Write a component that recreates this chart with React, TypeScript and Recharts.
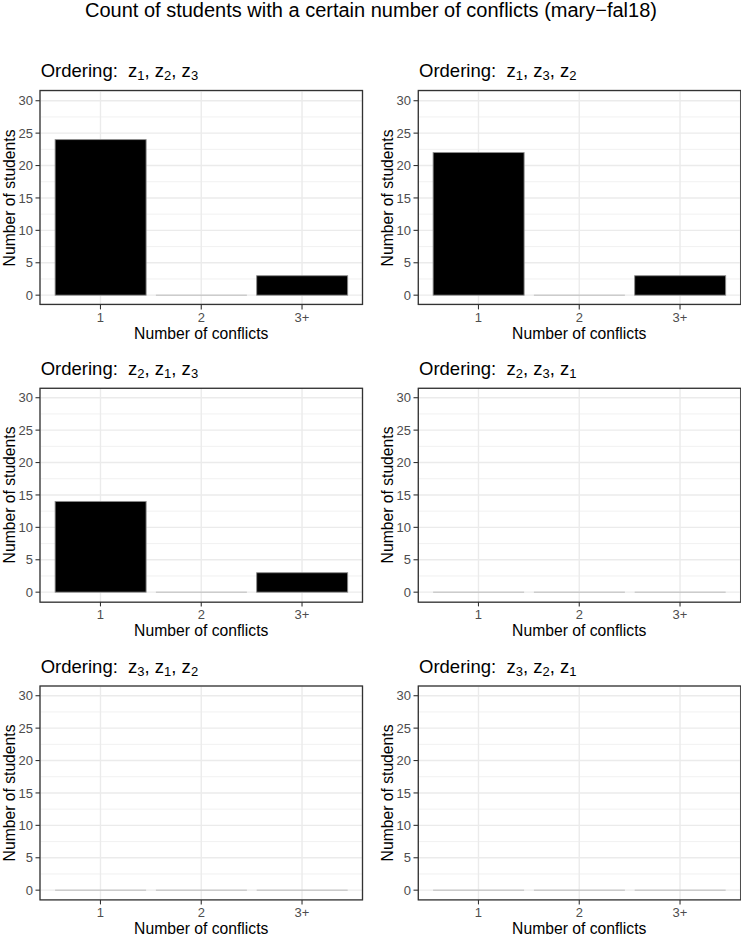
import React from "react";
import {
  BarChart,
  Bar,
  XAxis,
  YAxis,
  CartesianGrid,
} from "recharts";

// categories and tick values
const CONFLICTS = ["1", "2", "3+"];
const Y_TICKS = [0, 5, 10, 15, 20, 25, 30];
const Y_MINOR = [2.5, 7.5, 12.5, 17.5, 22.5, 27.5];
const Y_DOMAIN = [-1.5, 31.5];

// orderings (subscripts of z) and the counts for each panel
const ORDERINGS = [
  ["1", "2", "3"],
  ["1", "3", "2"],
  ["2", "1", "3"],
  ["2", "3", "1"],
  ["3", "1", "2"],
  ["3", "2", "1"],
];
const COUNTS_Z1_Z2_Z3 = [24, 0, 3];
const COUNTS_Z1_Z3_Z2 = [22, 0, 3];
const COUNTS_Z2_Z1_Z3 = [14, 0, 3];
const COUNTS_Z2_Z3_Z1 = [0, 0, 0];
const COUNTS_Z3_Z1_Z2 = [0, 0, 0];
const COUNTS_Z3_Z2_Z1 = [0, 0, 0];
const PANEL_COUNTS = [
  COUNTS_Z1_Z2_Z3,
  COUNTS_Z1_Z3_Z2,
  COUNTS_Z2_Z1_Z3,
  COUNTS_Z2_Z3_Z1,
  COUNTS_Z3_Z1_Z2,
  COUNTS_Z3_Z2_Z1,
];

const FONT = '"Liberation Sans", Arial, Helvetica, sans-serif';
const BORDER = "#333333";
const TICK_TEXT = "#4d4d4d";
const GRID = "#ebebeb";
const BAR_EDGE = "#8c8c8c";
const ZERO_EDGE = "#b3b3b3";

const PLOT_W = 322.5;
const PLOT_H = 213.9;
const Y_AXIS_W = 40;
const X_AXIS_H = 34;
const TOP_PAD = 2;
const COL_LEFT = [0, 378.3];
const ROW_TOP = [90.5, 388.3, 686];
const BAND_PAD = PLOT_W * 0.03125;

function BarShape(props: any) {
  const { x, y, width, height } = props;
  if (!height) {
    return <path d={`M${x},${y}h${width}`} stroke={ZERO_EDGE} strokeWidth={0.9} fill="none" />;
  }
  return (
    <rect x={x} y={y} width={width} height={height} fill="#000" stroke={BAR_EDGE} strokeWidth={0.9} />
  );
}

function Panel({ counts }: { counts: number[] }) {
  const data = CONFLICTS.map((c, i) => ({ conflicts: c, students: counts[i] }));
  return (
    <BarChart
      width={Y_AXIS_W + PLOT_W + 1}
      height={TOP_PAD + PLOT_H + X_AXIS_H + 8}
      data={data}
      margin={{ top: TOP_PAD, right: 1, left: 0, bottom: 8 }}
      barCategoryGap="5%"
    >
      <CartesianGrid
        horizontalValues={Y_MINOR}
        vertical={false}
        stroke={GRID}
        strokeWidth={0.7}
      />
      <CartesianGrid stroke={GRID} strokeWidth={1.4} />
      <XAxis
        dataKey="conflicts"
        type="category"
        padding={{ left: BAND_PAD, right: BAND_PAD }}
        height={X_AXIS_H}
        interval={0}
        tickSize={4.5}
        tickMargin={3}
        tick={{ fontSize: 13, fill: TICK_TEXT, fontFamily: FONT }}
        tickLine={{ stroke: BORDER, strokeWidth: 1.1 }}
        axisLine={false}
        label={{
          value: "Number of conflicts",
          position: "insideBottom",
          offset: 0,
          fontSize: 15.7,
          fill: "#000",
          fontFamily: FONT,
        }}
      />
      <YAxis
        type="number"
        domain={Y_DOMAIN}
        ticks={Y_TICKS}
        allowDataOverflow
        width={Y_AXIS_W}
        interval={0}
        tickSize={4.5}
        tickMargin={2.5}
        tick={{ fontSize: 13, fill: TICK_TEXT, fontFamily: FONT }}
        tickLine={{ stroke: BORDER, strokeWidth: 1.1 }}
        axisLine={false}
        label={{
          value: "Number of students",
          angle: -90,
          position: "insideLeft",
          offset: 9.5,
          textAnchor: "middle",
          fontSize: 15.7,
          fill: "#000",
          fontFamily: FONT,
        }}
      />
      <Bar dataKey="students" shape={BarShape} isAnimationActive={false} />
    </BarChart>
  );
}

function PanelTitle({ x, y, subs }: { x: number; y: number; subs: string[] }) {
  return (
    <text x={x} y={y} fontSize={18.5} fill="#000">
      <tspan style={{ whiteSpace: "pre" }}>{"Ordering:  z"}</tspan>
      <tspan fontSize={13} dy={3}>{subs[0]}</tspan>
      <tspan dy={-3}>{", z"}</tspan>
      <tspan fontSize={13} dy={3}>{subs[1]}</tspan>
      <tspan dy={-3}>{", z"}</tspan>
      <tspan fontSize={13} dy={3}>{subs[2]}</tspan>
    </text>
  );
}

export default function App() {
  return (
    <div
      style={{
        position: "absolute",
        left: 0,
        top: 0,
        width: 741,
        height: 934,
        overflow: "hidden",
        background: "#fff",
        fontFamily: FONT,
      }}
    >
      {PANEL_COUNTS.map((counts, i) => {
        const col = i % 2;
        const row = Math.floor(i / 2);
        return (
          <div
            key={i}
            style={{
              position: "absolute",
              left: COL_LEFT[col],
              top: ROW_TOP[row] - TOP_PAD,
            }}
          >
            <Panel counts={counts} />
          </div>
        );
      })}
      <svg
        width={741}
        height={934}
        style={{ position: "absolute", left: 0, top: 0, pointerEvents: "none", fontFamily: FONT }}
      >
        <text x={371} y={17} fontSize={20} textAnchor="middle" fill="#000">
          Count of students with a certain number of conflicts (mary−fal18)
        </text>
        {ORDERINGS.map((subs, i) => {
          const left = COL_LEFT[i % 2] + Y_AXIS_W;
          const top = ROW_TOP[Math.floor(i / 2)];
          return (
            <g key={i}>
              {/* panel border */}
              <rect
                x={left}
                y={top}
                width={PLOT_W}
                height={PLOT_H}
                fill="none"
                stroke={BORDER}
                strokeWidth={1.3}
              />
              <PanelTitle x={left + 0.7} y={top - 13.2} subs={subs} />
            </g>
          );
        })}
      </svg>
    </div>
  );
}
